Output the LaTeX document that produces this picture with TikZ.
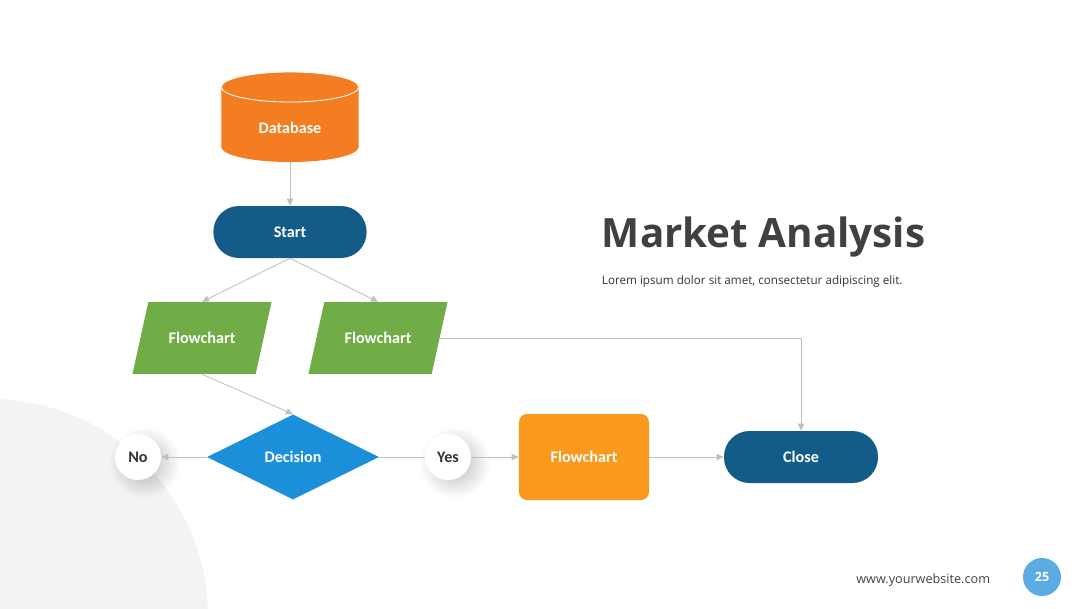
\documentclass[tikz,border=0pt]{standalone}
\usepackage{fontspec}
\setmainfont{Carlito}
\newfontfamily\titlefont{Open Sans}
\usetikzlibrary{arrows.meta, positioning, shapes.geometric, shadows, fadings}
\definecolor{mOrange}{HTML}{F57D21}
\definecolor{mNavy}{HTML}{145C88}
\definecolor{mGreen}{HTML}{70AD47}
\definecolor{mBlue}{HTML}{1C8FDB}
\definecolor{mAmber}{HTML}{F99A1E}
\definecolor{mSky}{HTML}{5AACE3}
\definecolor{mDark}{HTML}{404040}
\definecolor{mInk}{HTML}{333333}
\definecolor{mMist}{HTML}{F3F3F3}
\definecolor{mLine}{HTML}{BFBFBF}
\tikzfading[name=halofade, inner color=transparent!0, outer color=transparent!100]

\begin{document}
\begin{tikzpicture}[
    x=0.025cm, y=-0.025cm,
    lbl/.style={font=\bfseries\fontsize{11.5}{13}\selectfont, align=center, inner sep=2pt},
    box/.style={lbl, text=white},
    dbend/.style={x radius=1.715cm, y radius=0.375cm},
    store/.style={minimum width=3.43cm, minimum height=2.25cm, inner sep=0pt,
        path picture={
            \fill[mOrange] ([yshift=-0.375cm]path picture bounding box.north west) rectangle ([yshift=0.375cm]path picture bounding box.south east);
            \fill[mOrange] ([yshift=0.375cm]path picture bounding box.south) ellipse [dbend];
            \fill[mOrange] ([yshift=-0.375cm]path picture bounding box.north) ellipse [dbend];
            \draw[white, line width=0.6pt] ([yshift=-0.375cm]path picture bounding box.north) ellipse [dbend];
        }},
    pill/.style={box, fill=mNavy, rounded corners=0.64cm, minimum width=3.83cm, minimum height=1.3cm},
    ioblock/.style={box, trapezium, fill=mGreen, trapezium left angle=77.6, trapezium right angle=102.4, trapezium stretches body, minimum width=3.475cm, inner xsep=4pt, inner ysep=21.5pt},
    choice/.style={box, diamond, fill=mBlue, minimum width=4.3cm, minimum height=2.125cm, inner sep=0pt},
    answer/.style={lbl, circle, fill=white, text=mInk, minimum size=1.15cm, inner sep=0pt,
        general shadow={fill=black, opacity=0.28, shadow scale=1.55, shadow xshift=3pt, shadow yshift=-2.5pt, path fading=halofade}},
    process/.style={box, fill=mAmber, rounded corners=0.2cm, minimum width=3.25cm, minimum height=2.15cm},
    page/.style={circle, fill=mSky, text=white, minimum size=0.95cm, inner sep=0pt, font=\titlefont\bfseries\fontsize{9}{10}\selectfont},
    arr/.style={-{Triangle[length=5pt, width=4.5pt]}, line width=0.6pt, color=mLine},
]
    \useasboundingbox (0,0) rectangle (1080,608);

    % fond : quart de disque gris en bas a gauche
    \fill[mMist] (-10,617) circle (218);

    % colonne de gauche
    \node[store, label={[box, yshift=-7.5pt]center:Database}] (db) at (290,117) {};
    \node[pill] (start) at (290,232) {Start};
    \node[ioblock] (fcl) at (202,338) {Flowchart};
    \node[ioblock] (fcr) at (378,338) {Flowchart};

    % ligne de decision
    \node[choice] (dec) at (293,457) {Decision};
    \node[answer] (no) at (138,457) {No};
    \node[answer] (yes) at (448,457) {Yes};
    \node[process] (fco) at (584,457) {Flowchart};
    \node[pill, minimum width=3.85cm] (close) at (801,457) {Close};

    % liaisons
    \draw[arr] (db) -- (start);
    \draw[arr] (start.south) -- (fcl.north);
    \draw[arr] (start.south) -- (fcr.north);
    \draw[arr] (fcl.south) -- (dec.north);
    \draw[arr] (dec.west) -- (no.east);
    \draw[line width=0.6pt, mLine] (dec.east) -- (yes.west);
    \draw[arr] (yes.east) -- (fco.west);
    \draw[arr] (fco.east) -- (close.west);
    \draw[arr] (fcr.east) -| (close.north);

    % textes
    \node[anchor=west, text=mDark, font=\titlefont\bfseries\fontsize{28.7}{32}\selectfont] (title) at (597,237) {Market Analysis};
    \node[anchor=west, text=mInk, font=\titlefont\fontsize{8.3}{10}\selectfont] (sub) at (597,281) {Lorem ipsum dolor sit amet, consectetur adipiscing elit.};
    \node[anchor=east, text=mDark, font=\titlefont\fontsize{9}{10}\selectfont] (web) at (995,580) {www.yourwebsite.com};
    \node[page] (pg) at (1042,577) {25};
\end{tikzpicture}
\end{document}
